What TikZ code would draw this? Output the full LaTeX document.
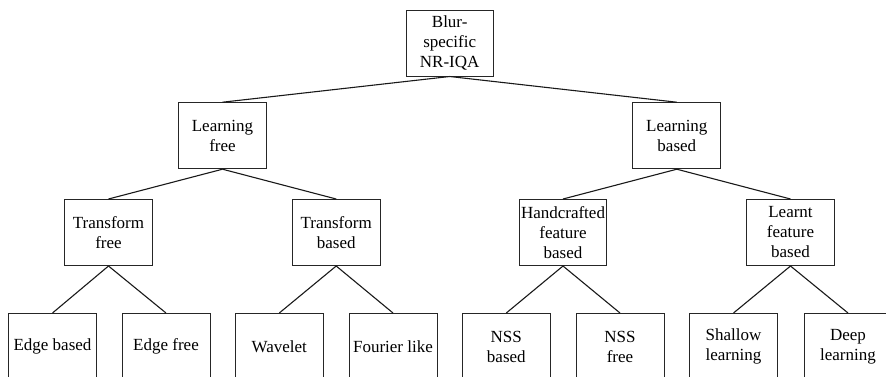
\documentclass[tikz,border=0pt]{standalone}
\usepackage{fontspec}
\setmainfont{Liberation Serif}
\newfontfamily\boxfont{Liberation Serif}
\begin{document}
\begin{tikzpicture}[x=1pt,y=-1pt,
  box/.style={draw=black!85, line width=1pt, minimum width=88pt, minimum height=66pt,
    inner sep=0pt, align=center, font=\boxfont\fontsize{17}{20}\selectfont},
  link/.style={draw=black!90, line width=1.1pt}]
\useasboundingbox (0,0) rectangle (886,376);
\clip (0,0) rectangle (886,376);
% root
\node[box, minimum width=87pt] (root) at (449.7,43) {Blur-\\specific\\NR-IQA};
% second level
\node[box] (lf) at (222.5,135.7) {Learning\\free};
\node[box] (lb) at (676.8,135.7) {Learning\\based};
% third level
\node[box] (tf) at (108.5,232.5) {Transform\\free};
\node[box] (tb) at (336.2,232.5) {Transform\\based};
\node[box, minimum width=87pt] (hc) at (563,232.5) {Handcrafted\\feature\\based};
\node[box] (lt) at (790.5,232.5) {Learnt\\feature\\based};
% leaves
\node[box] (eb) at (52.5,346.5) {Edge based};
\node[box] (ef) at (166,346.5) {Edge free};
\node[box] (wv) at (279.3,346.5) {Wavelet};
\node[box] (fl) at (393,346.5) {Fourier like};
\node[box] (nb) at (506.3,346.5) {NSS\\based};
\node[box] (nf) at (620,346.5) {NSS\\free};
\node[box] (sl) at (733.5,346.5) {Shallow\\learning};
\node[box] (dl) at (848,346.5) {Deep\\learning};
% connectors
\foreach \p/\c in {root/lf, root/lb, lf/tf, lf/tb, lb/hc, lb/lt,
                   tf/eb, tf/ef, tb/wv, tb/fl, hc/nb, hc/nf, lt/sl, lt/dl}
  \draw[link] (\p.south) -- (\c.north);
\end{tikzpicture}
\end{document}
